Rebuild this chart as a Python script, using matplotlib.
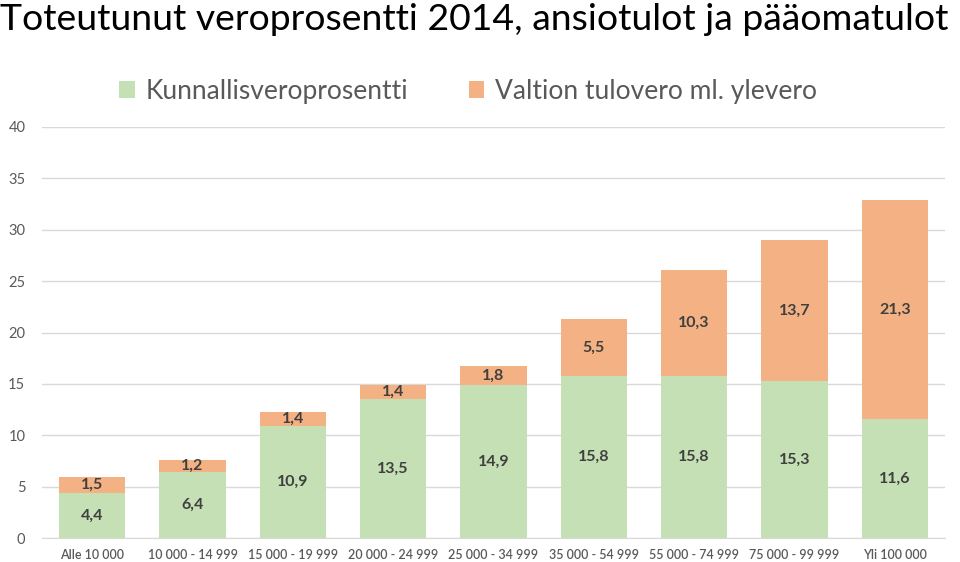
import numpy as np
import matplotlib
matplotlib.use('Agg')
import matplotlib.pyplot as plt
from matplotlib.patches import Patch

plt.rcParams['font.family'] = ['Lato', 'DejaVu Sans']

# ── Data ─────────────────────────────────────────────────────────────────────
categories = ['Alle 10 000', '10 000 - 14 999', '15 000 - 19 999', '20 000 - 24 999',
              '25 000 - 34 999', '35 000 - 54 999', '55 000 - 74 999',
              '75 000 - 99 999', 'Yli 100 000']
kunnallis = [4.4, 6.4, 10.9, 13.5, 14.9, 15.8, 15.8, 15.3, 11.6]
valtion   = [1.5, 1.2, 1.4, 1.4, 1.8, 5.5, 10.3, 13.7, 21.3]
series_names = ['Kunnallisveroprosentti', 'Valtion tulovero ml. ylevero']
yticks = [0, 5, 10, 15, 20, 25, 30, 35, 40]

GREEN = '#C5E0B4'
ORANGE = '#F4B183'
TXT = '#404040'
TICK = '#595959'
GRID = '#D9D9D9'

W, H = 960, 562
fig = plt.figure(figsize=(W / 100, H / 100), dpi=100)
ax = fig.add_axes([42 / W, (H - 538) / H, 903 / W, 411 / H])

x = np.arange(len(categories))
bw = 0.66
b1 = ax.bar(x, kunnallis, bw, color=GREEN, zorder=2)
b2 = ax.bar(x, valtion, bw, bottom=kunnallis, color=ORANGE, zorder=2)

for bars, vals in ((b1, kunnallis), (b2, valtion)):
    for rect, v in zip(bars, vals):
        ax.text(rect.get_x() + rect.get_width() / 2,
                rect.get_y() + rect.get_height() / 2,
                f'{v:.1f}'.replace('.', ','),
                ha='center', va='center', fontsize=11.5,
                fontweight='bold', color=TXT, zorder=3)

ax.set_xlim(-0.5, len(categories) - 0.5)
ax.set_ylim(0, 40)
ax.set_yticks(yticks)
ax.set_xticks(x)
ax.set_xticklabels(categories)
ax.tick_params(axis='x', length=0, pad=8, labelsize=9, labelcolor=TICK)
ax.tick_params(axis='y', length=0, pad=12, labelsize=10.5, labelcolor=TICK)
for lab in ax.get_xticklabels():
    lab.set_fontweight('semibold')
ax.grid(axis='y', color=GRID, lw=1, zorder=0)
for s in ['top', 'right', 'left']:
    ax.spines[s].set_visible(False)
ax.spines['bottom'].set_color(GRID)

# title
fig.text(0 / W, 1 - 30 / H, 'Toteutunut veroprosentti 2014, ansiotulot ja pääomatulot',
         fontsize=26.9, color='black', ha='left', va='baseline')

# legend
handles = [Patch(facecolor=GREEN), Patch(facecolor=ORANGE)]
fig.legend(handles, series_names, loc='center', bbox_to_anchor=(468 / W, 1 - 91 / H),
           ncol=2, frameon=False, fontsize=19, labelcolor=TICK,
           handlelength=0.6, handleheight=0.6, handletextpad=0.4,
           columnspacing=2.3)

fig.savefig('out.png', dpi=100)
